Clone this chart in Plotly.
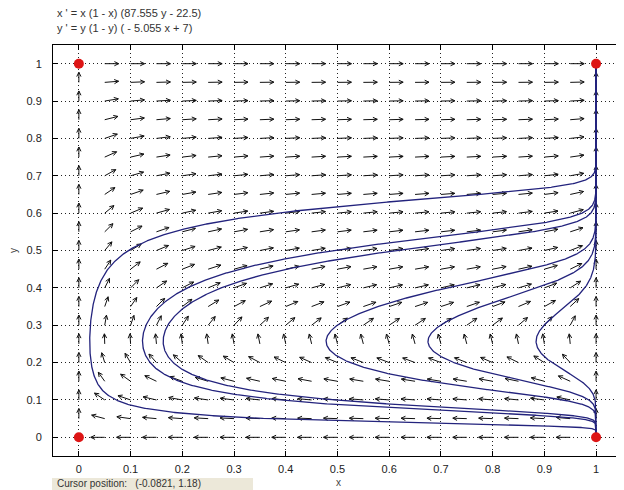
import numpy as np
import plotly.graph_objects as go

# ---- data ----
# system:  x' = x (1 - x) (A y - B),   y' = y (1 - y) ( - C x + D)
A_COEF = 87.555
B_COEF = 22.5
C_COEF = 5.055
D_COEF = 7.0

# leftmost points of the drawn orbits (on the x-nullcline)
traj_x0 = [0.021, 0.123, 0.163, 0.478, 0.675, 0.884]
traj_y0 = [0.257, 0.257, 0.257, 0.257, 0.257, 0.257]

# equilibrium points (red dots)
eq_x = [0, 0, 1, 1]
eq_y = [0, 1, 0, 1]

# direction-field sample positions
field_x = [0, 0.05, 0.1, 0.15, 0.2, 0.25, 0.3, 0.35, 0.4, 0.45, 0.5,
           0.55, 0.6, 0.65, 0.7, 0.75, 0.8, 0.85, 0.9, 0.95, 1]
field_y = [0, 0.05, 0.1, 0.15, 0.2, 0.25, 0.3, 0.35, 0.4, 0.45, 0.5,
           0.55, 0.6, 0.65, 0.7, 0.75, 0.8, 0.85, 0.9, 0.95, 1]

tick_vals = [0, 0.1, 0.2, 0.3, 0.4, 0.5, 0.6, 0.7, 0.8, 0.9, 1]
tick_text = ["0", "0.1", "0.2", "0.3", "0.4", "0.5", "0.6", "0.7", "0.8", "0.9", "1"]

title_lines = ["x ' = x (1 - x) (87.555 y - 22.5)",
               "y ' = y (1 - y) ( - 5.055 x + 7)"]
cursor_text = "Cursor position:   (-0.0821, 1.18)"

# ---- figure geometry (page body has an 8px margin) ----
OFF = 8
W, H = 624 - OFF, 490 - OFF
ML, MR, MT, MB = 53 - OFF, 0, 45 - OFF, 34
XR = [-0.05, 1.054]
YR = [-0.05, 1.05]
PW, PH = W - ML - MR, H - MT - MB
SX = PW / (XR[1] - XR[0])   # px per x unit
SY = PH / (YR[1] - YR[0])   # px per y unit

FONT = "Liberation Sans, Arial, sans-serif"


def px2paper_x(px):
    return (px - OFF - ML) / PW


def px2paper_y(py):
    return (H - MB - (py - OFF)) / PH


def field(p):
    x, y = p
    return np.array([x * (1 - x) * (A_COEF * y - B_COEF),
                     y * (1 - y) * (-C_COEF * x + D_COEF)])


def unit(p, s):
    v = field(p)
    n = np.hypot(v[0], v[1])
    if n < 1e-12:
        return None
    return s * v / n


def integrate(p0, s, h=0.0015, nmax=5000):
    p = np.array(p0, dtype=float)
    pts = [p.copy()]
    corners = np.array([[0, 0], [0, 1], [1, 0], [1, 1]], dtype=float)
    for _ in range(nmax):
        k1 = unit(p, s)
        if k1 is None:
            break
        k2 = unit(p + 0.5 * h * k1, s)
        if k2 is None:
            break
        k3 = unit(p + 0.5 * h * k2, s)
        if k3 is None:
            break
        k4 = unit(p + h * k3, s)
        if k4 is None:
            break
        p = p + h / 6 * (k1 + 2 * k2 + 2 * k3 + k4)
        p = np.clip(p, 0.0, 1.0)
        pts.append(p.copy())
        if np.min(np.hypot(*(corners - p).T)) < 0.003:
            break
    return np.array(pts)


fig = go.Figure()

# ---- direction field arrows ----
L = 0.027          # arrow length (data units, same for both axes)
HL = 4.8           # head length in px
ANG = np.deg2rad(26)
ax_, ay_ = [], []
for yv in field_y:
    for xv in field_x:
        v = field((xv, yv))
        n = np.hypot(*v)
        if n < 1e-12:
            continue
        ux, uy = v / n
        tx, ty = xv + L * ux, yv + L * uy
        dpx, dpy = ux * L * SX, uy * L * SY
        dn = np.hypot(dpx, dpy)
        dpx, dpy = dpx / dn, dpy / dn
        heads = []
        for a in (ANG, -ANG):
            rx = dpx * np.cos(a) - dpy * np.sin(a)
            ry = dpx * np.sin(a) + dpy * np.cos(a)
            heads.append((tx - HL * rx / SX, ty - HL * ry / SY))
        ax_ += [xv, tx, None, heads[0][0], tx, heads[1][0], None]
        ay_ += [yv, ty, None, heads[0][1], ty, heads[1][1], None]

fig.add_trace(go.Scatter(x=ax_, y=ay_, mode="lines",
                         line=dict(color="#111111", width=1),
                         hoverinfo="skip"))

# ---- trajectories ----
for x0, y0 in zip(traj_x0, traj_y0):
    back = integrate((x0, y0), -1.0)
    fwd = integrate((x0, y0), 1.0)
    pts = np.vstack([back[::-1], fwd[1:]])
    fig.add_trace(go.Scatter(x=pts[:, 0], y=pts[:, 1], mode="lines",
                             line=dict(color="#23237d", width=1.3),
                             hoverinfo="skip"))

# ---- equilibria ----
fig.add_trace(go.Scatter(x=eq_x, y=eq_y, mode="markers",
                         marker=dict(color="#dd1515", size=10),
                         cliponaxis=False, hoverinfo="skip"))

axis_common = dict(
    tickvals=tick_vals, ticktext=tick_text,
    ticks="inside", ticklen=5, tickcolor="#000", tickwidth=1,
    showline=True, linecolor="#000", linewidth=1, mirror="ticks",
    showgrid=True, gridcolor="#222", gridwidth=1, griddash="1px,3px",
    zeroline=False, automargin=False,
    tickfont=dict(family=FONT, size=11, color="#222"),
)

fig.update_layout(
    width=W, height=H,
    margin=dict(l=ML, r=MR, t=MT, b=MB),
    paper_bgcolor="white", plot_bgcolor="white",
    showlegend=False,
    xaxis=dict(range=XR, title=dict(text="x", font=dict(family=FONT, size=10, color="#444"),
                                    standoff=4),
               ticklabelstandoff=3, **axis_common),
    yaxis=dict(range=YR, title=dict(text="y", font=dict(family=FONT, size=10, color="#444"),
                                    standoff=8),
               ticklabelstandoff=8, **axis_common),
)

# title lines
for i, t in enumerate(title_lines):
    fig.add_annotation(text=t, xref="paper", yref="paper",
                       x=px2paper_x(55), y=px2paper_y(13 + 15 * i),
                       xanchor="left", yanchor="middle", showarrow=False,
                       font=dict(family=FONT, size=11, color="#333"))

# cursor position box
fig.add_shape(type="rect", xref="paper", yref="paper",
              x0=px2paper_x(52), x1=px2paper_x(253),
              y0=px2paper_y(478), y1=px2paper_y(490),
              fillcolor="#ece8d9", line=dict(width=0), layer="below")
fig.add_annotation(text=cursor_text, xref="paper", yref="paper",
                   x=px2paper_x(55), y=px2paper_y(484),
                   xanchor="left", yanchor="middle", showarrow=False,
                   font=dict(family=FONT, size=10, color="#333"))

fig.write_html("out.html")
